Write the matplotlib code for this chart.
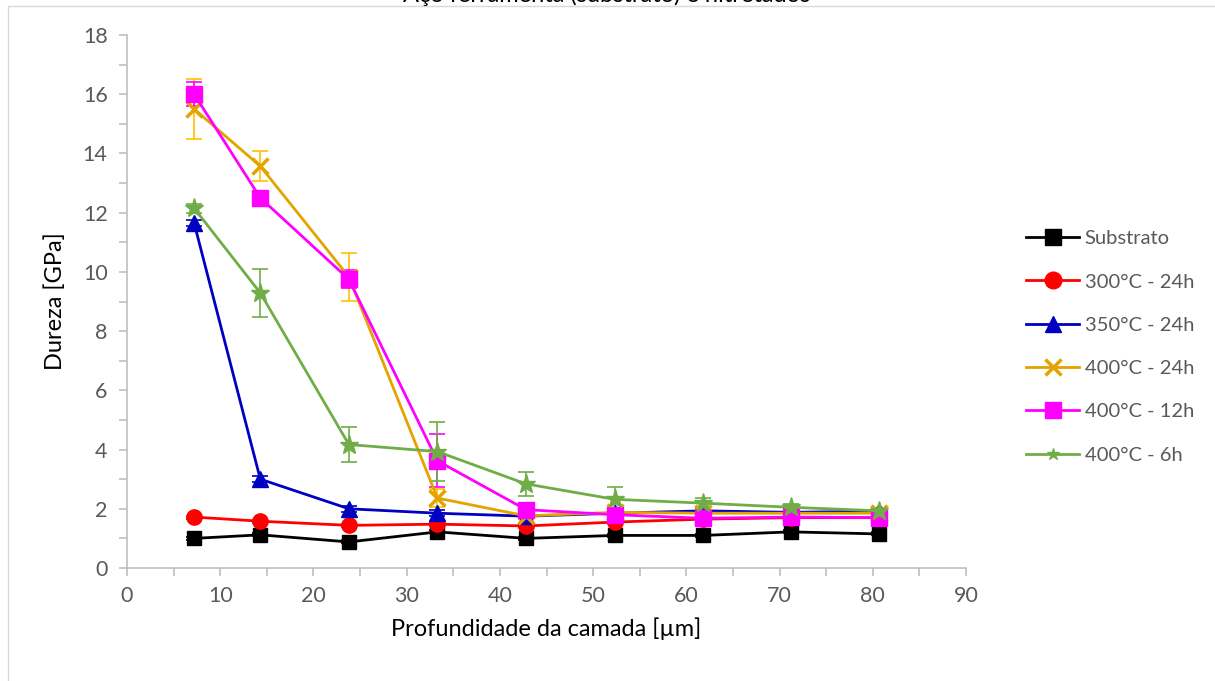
import matplotlib
matplotlib.use("Agg")
import matplotlib.pyplot as plt
from matplotlib import ticker
from matplotlib.patches import Rectangle

# depth of the layer (um)
depth = [7.2, 14.3, 23.8, 33.3, 42.8, 52.3, 61.8, 71.2, 80.7]

labels = ["Substrato", "300°C - 24h", "350°C - 24h", "400°C - 24h", "400°C - 12h", "400°C - 6h"]

substrato = [1.0, 1.12, 0.88, 1.22, 1.0, 1.1, 1.1, 1.22, 1.15]
t300_24 = [1.72, 1.58, 1.44, 1.48, 1.42, 1.55, 1.65, 1.7, 1.7]
t350_24 = [11.65, 3.0, 2.0, 1.85, 1.75, 1.85, 1.93, 1.88, 1.92]
t400_24 = [15.5, 13.57, 9.83, 2.36, 1.76, 1.88, 1.85, 1.85, 1.85]
t400_12 = [16.0, 12.5, 9.75, 3.62, 1.97, 1.8, 1.68, 1.72, 1.7]
t400_6 = [12.15, 9.29, 4.17, 3.93, 2.84, 2.32, 2.19, 2.05, 1.93]

err_sub = [0.05, 0.05, 0.05, 0.05, 0.05, 0.05, 0.05, 0.05, 0.05]
err_300 = [0.05, 0.05, 0.05, 0.05, 0.05, 0.05, 0.05, 0.05, 0.05]
err_350 = [0.1, 0.1, 0.1, 0.1, 0.1, 0.1, 0.1, 0.1, 0.1]
err_400_24 = [1.0, 0.5, 0.8, 0.3, 0.1, 0.1, 0.1, 0.1, 0.1]
err_400_12 = [0.4, 0.2, 0.3, 0.9, 0.15, 0.1, 0.1, 0.1, 0.1]
err_400_6 = [0.15, 0.8, 0.6, 1.0, 0.4, 0.4, 0.18, 0.12, 0.1]

series = [substrato, t300_24, t350_24, t400_24, t400_12, t400_6]
errors = [err_sub, err_300, err_350, err_400_24, err_400_12, err_400_6]
colors = ["#000000", "#FF0000", "#0000C0", "#E3A400", "#FF00FF", "#70AD47"]
ecolors = ["#000000", "#FF0000", "#0000C0", "#FFC000", "#FF00FF", "#70AD47"]
markers = ["s", "o", "^", "x", "s", "*"]
msizes = [10, 11, 11, 11, 11, 14]
leg_sizes = [11, 12, 12, 11, 11, 9]

plt.rcParams['font.family'] = ['Lato', 'DejaVu Sans']

fig = plt.figure(figsize=(12.15, 6.81), dpi=100)
ax = fig.add_axes([127/1215, 1 - 568/681, (966 - 127)/1215, (568 - 35)/681])

# outer chart frame like excel
fig.patches.append(Rectangle((8/1215, -0.01), 1.0, 1 - 6/681 + 0.01, transform=fig.transFigure,
                             fill=False, edgecolor="#D9D9D9", linewidth=1))

handles = []
for y, e, c, ec, m, ms, lab in zip(series, errors, colors, ecolors, markers, msizes, labels):
    ax.errorbar(depth, y, yerr=e, fmt="none", ecolor=ec, elinewidth=1.2, capsize=6, capthick=1.2, zorder=2)
    mew = 2.5 if m == "x" else 1
    h, = ax.plot(depth, y, color=c, marker=m, markersize=ms, markeredgewidth=mew,
                 markeredgecolor=c, markerfacecolor=c, linewidth=2, label=lab, zorder=3)
    handles.append(h)

ax.set_xlim(0, 90)
ax.set_ylim(0, 18)
ax.xaxis.set_major_locator(ticker.MultipleLocator(10))
ax.xaxis.set_minor_locator(ticker.MultipleLocator(5))
ax.yaxis.set_major_locator(ticker.MultipleLocator(2))
ax.yaxis.set_minor_locator(ticker.MultipleLocator(1))

for s in ["top", "right"]:
    ax.spines[s].set_visible(False)
for s in ["left", "bottom"]:
    ax.spines[s].set_color("#BFBFBF")
    ax.spines[s].set_linewidth(1.2)

ax.tick_params(which="both", direction="out", color="#BFBFBF", width=1.2, length=6,
               labelcolor="#595959", labelsize=15.5)
ax.tick_params(axis="x", pad=7)
ax.tick_params(axis="y", pad=8)

ax.set_xlabel("Profundidade da camada [µm]", fontsize=17, labelpad=8)
ax.set_ylabel("Dureza [GPa]", fontsize=17, labelpad=12)

# title is clipped at the top edge in the original
fig.text(607/1215, 1 - 1.5/681, "Aço ferramenta (substrato) e nitretados", ha="center", va="baseline",
         fontsize=17, color="#000000")

leg = fig.legend(handles=handles, loc="upper left", bbox_to_anchor=(1008/1215, 1 - 212/681),
                 frameon=False, fontsize=14.5, labelcolor="#595959", handlelength=2.65,
                 handletextpad=0.25, labelspacing=1.3)
for lh, s in zip(leg.legend_handles, leg_sizes):
    lh.set_markersize(s)

fig.savefig("out.png", dpi=100)
